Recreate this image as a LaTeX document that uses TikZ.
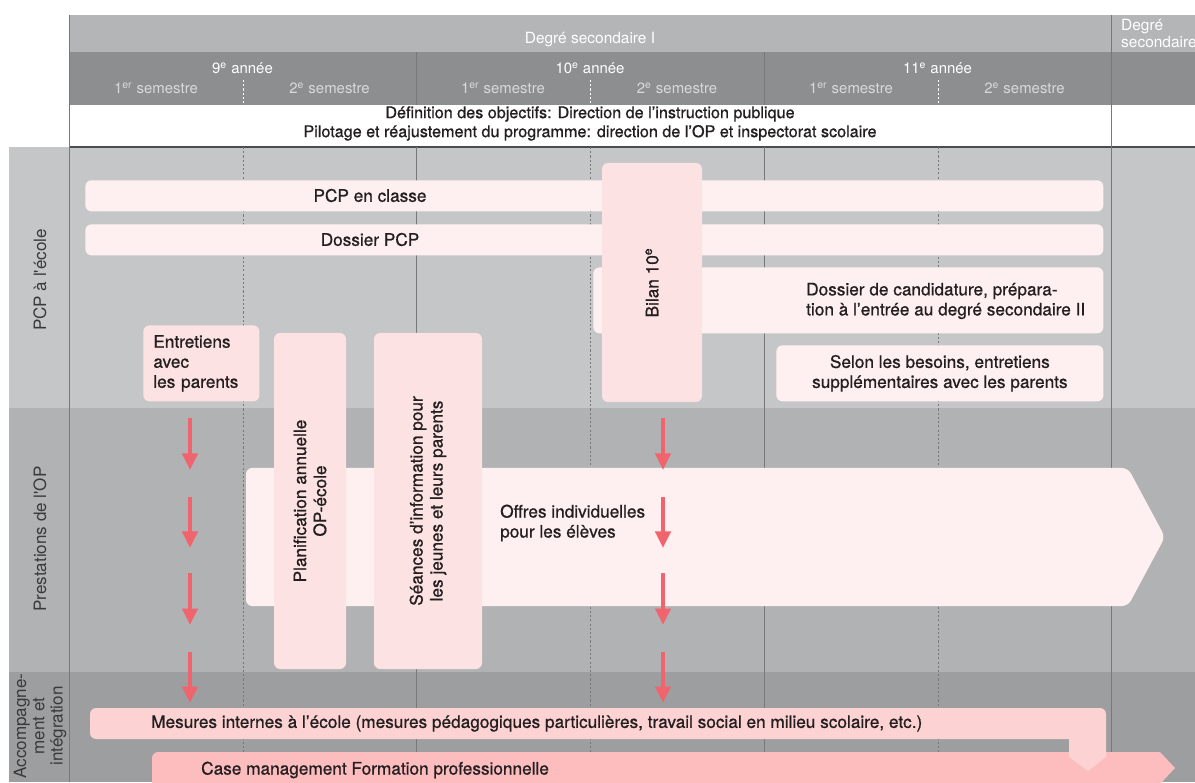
\documentclass[tikz,border=0pt]{standalone}
\usepackage{fontspec}
\setmainfont{TeX Gyre Heros}
\newfontfamily\medfont[FakeBold=0.8]{TeX Gyre Heros}
\usetikzlibrary{arrows.meta,positioning}
\definecolor{headlight}{HTML}{B4B5B7}
\definecolor{headdark}{HTML}{8D8E90}
\definecolor{rowpcp}{HTML}{C5C6C8}
\definecolor{rowop}{HTML}{B1B2B4}
\definecolor{rowacc}{HTML}{9D9EA0}
\definecolor{rule}{HTML}{77787A}
\definecolor{palepink}{HTML}{FEF0F0}
\definecolor{softpink}{HTML}{FDE2E3}
\definecolor{midpink}{HTML}{FDD2D3}
\definecolor{deeppink}{HTML}{FDBDBF}
\definecolor{redarrow}{HTML}{F0646E}
\definecolor{darktext}{HTML}{231F20}
\definecolor{labeltext}{HTML}{3A3A3C}
\tikzset{
  head/.style={font=\fontsize{8.8}{9.8}\selectfont,text=white},
  year/.style={font=\fontsize{8.5}{10}\selectfont,text=white},
  sem/.style={font=\fontsize{8.5}{10}\selectfont,text=white!85!black},
  rowlabel/.style={font=\fontsize{9.7}{10.4}\selectfont,text=labeltext,rotate=90,align=center},
  body/.style={font=\medfont\fontsize{9.8}{11.4}\selectfont,text=darktext,align=left},
  bar/.style={rounded corners=3.5pt,fill=palepink},
  tile/.style={rounded corners=3.5pt,fill=softpink},
  yearline/.style={draw=rule,line width=0.55pt},
  semline/.style={draw=rule,dash pattern=on 1.2pt off 1.2pt,line width=0.5pt},
  arr/.style={-{Triangle[length=3.3mm,width=3mm]},draw=redarrow,line width=2.3pt}
}
\begin{document}
\begin{tikzpicture}[x=1cm,y=1cm]
\path[use as bounding box,fill=white] (0,0) rectangle (23.9,15.64);

% bandes de fond
\fill[headlight] (1.38,14.6) rectangle (23.9,15.34);
\fill[headdark] (1.38,13.54) rectangle (23.9,14.6);
\fill[rowpcp] (0.18,7.48) rectangle (23.9,12.7);
\fill[rowop] (0.18,2.2) rectangle (23.9,7.48);
\fill[rowacc] (0.18,0) rectangle (23.9,2.2);
\draw[draw=black!70,line width=1pt] (1.38,12.7)--(23.9,12.7);

% lignes des années et semestres
\draw[yearline] (1.38,15.34)--(1.38,0);
\draw[yearline] (22.22,15.34)--(22.22,0);
\draw[yearline] (8.32,14.6)--(8.32,13.54); \draw[yearline] (8.32,12.7)--(8.32,0);
\draw[yearline] (15.28,14.6)--(15.28,13.54); \draw[yearline] (15.28,12.7)--(15.28,0);
\draw[semline,draw=white] (4.86,14.04)--(4.86,13.54); \draw[semline] (4.86,12.7)--(4.86,0);
\draw[semline,draw=white] (11.8,14.04)--(11.8,13.54); \draw[semline] (11.8,12.7)--(11.8,0);
\draw[semline,draw=white] (18.76,14.04)--(18.76,13.54); \draw[semline] (18.76,12.7)--(18.76,0);

% en-tete
\node[head] (deg1) at (11.8,14.84) {Degré secondaire I};
\node[head,anchor=west,align=left] (deg2) at (22.3,14.97) {Degré\\secondaire};
\node[year] (y9) at (4.85,14.28) {9\textsuperscript{e} année};
\node[year] (y10) at (11.8,14.28) {10\textsuperscript{e} année};
\node[year] (y11) at (18.75,14.28) {11\textsuperscript{e} année};
\node[sem] (s1) at (3.12,13.88) {1\textsuperscript{er} semestre};
\node[sem] (s2) at (6.59,13.88) {2\textsuperscript{e} semestre};
\node[sem] (s3) at (10.06,13.88) {1\textsuperscript{er} semestre};
\node[sem] (s4) at (13.54,13.88) {2\textsuperscript{e} semestre};
\node[sem] (s5) at (17.02,13.88) {1\textsuperscript{er} semestre};
\node[sem] (s6) at (20.49,13.88) {2\textsuperscript{e} semestre};
\node[body,align=center,font=\medfont\fontsize{9.2}{10.8}\selectfont] (obj) at (11.8,13.17) {Définition des objectifs: Direction de l’instruction publique\\Pilotage et réajustement du programme: direction de l’OP et inspectorat scolaire};

% titres des lignes
\node[rowlabel] (lpcp) at (0.8,10.04) {PCP à l\textquotesingle école};
\node[rowlabel] (lop) at (0.8,4.86) {Prestations de l\textquotesingle OP};
\node[rowlabel] (lacc) at (0.8,1.12) {Accompagne-\\ment et\\intégration};

% PCP a l'ecole
\node[bar,minimum width=20.36cm,minimum height=0.62cm,anchor=north west] (cls) at (1.7,12.04) {};
\node[bar,minimum width=20.36cm,minimum height=0.62cm,anchor=north west] (dos) at (1.7,11.16) {};
\node[bar,minimum width=10.2cm,minimum height=1.32cm,anchor=north west] (cand) at (11.86,10.3) {};
\node[body] (clst) at (7.4,11.73) {PCP en classe};
\node[body] (dost) at (7.4,10.85) {Dossier PCP};
\node[body,anchor=west] (candt) at (16.0,9.62) {Dossier de candidature, prépara-\\tion à l’entrée au degré secondaire II};
\node[tile,body,rotate=90,minimum width=4.78cm,minimum height=2cm] (bil) at (13.04,9.99) {Bilan 10\textsuperscript{e}};
\node[bar,body,align=center,minimum width=6.54cm,minimum height=1.12cm,anchor=north west] (sel) at (15.52,8.74) {Selon les besoins, entretiens\\supplémentaires avec les parents};
\node[tile,body,anchor=north west,text width=1.92cm,inner xsep=0.2cm,minimum height=1.52cm] (ent) at (2.86,9.14) {Entretiens\\avec\\les parents};

% prestations de l'OP
\path[bar] (4.92,6.28)--(22.56,6.28)--(23.3,4.9)--(22.56,3.52)--(4.92,3.52)--cycle;
\node[body,anchor=west] (off) at (9.88,5.18) {Offres individuelles\\pour les élèves};
\node[tile,body,align=center,rotate=90,minimum width=6.72cm,minimum height=1.44cm] (plan) at (6.2,5.62) {Planification annuelle\\OP-école};
\node[tile,body,align=center,rotate=90,minimum width=6.72cm,minimum height=2.16cm] (sea) at (8.56,5.62) {Séances d’information pour\\les jeunes et leurs parents};

\coordinate (l1a) at (3.8,7.28); \coordinate (l1b) at (3.8,6.24);
\coordinate (l2a) at (3.8,5.7); \coordinate (l2b) at (3.8,4.68);
\coordinate (l3a) at (3.8,4.18); \coordinate (l3b) at (3.8,3.14);
\coordinate (l4a) at (3.8,2.6); \coordinate (l4b) at (3.8,1.58);
\coordinate (r1a) at (13.26,7.28); \coordinate (r1b) at (13.26,6.24);
\coordinate (r2a) at (13.26,5.7); \coordinate (r2b) at (13.26,4.68);
\coordinate (r3a) at (13.26,4.18); \coordinate (r3b) at (13.26,3.14);
\coordinate (r4a) at (13.26,2.6); \coordinate (r4b) at (13.26,1.58);
\draw[arr] (l1a)--(l1b); \draw[arr] (l2a)--(l2b); \draw[arr] (l3a)--(l3b); \draw[arr] (l4a)--(l4b);
\draw[arr] (r1a)--(r1b); \draw[arr] (r2a)--(r2b); \draw[arr] (r3a)--(r3b); \draw[arr] (r4a)--(r4b);

% accompagnement et integration
\path[fill=deeppink] (3.04,-0.04)[rounded corners=3.5pt]--(3.04,0.6)[sharp corners]--(23.2,0.6)--(23.5,0.28)--(23.2,-0.04)--cycle;
\node[body,anchor=west] (case) at (3.9,0.24) {Case management Formation professionnelle};
\path[fill=midpink] (21.38,0.86)[rounded corners=3.5pt]--(1.8,0.86)--(1.8,1.48)--(22.12,1.48)--(22.12,0.6)[sharp corners]--(22.12,0.5)--(21.76,0.22)--(21.38,0.5)--cycle;
\node[body,anchor=west] (mes) at (2.9,1.17) {Mesures internes à l’école (mesures pédagogiques particulières, travail social en milieu scolaire, etc.)};
\end{tikzpicture}
\end{document}
